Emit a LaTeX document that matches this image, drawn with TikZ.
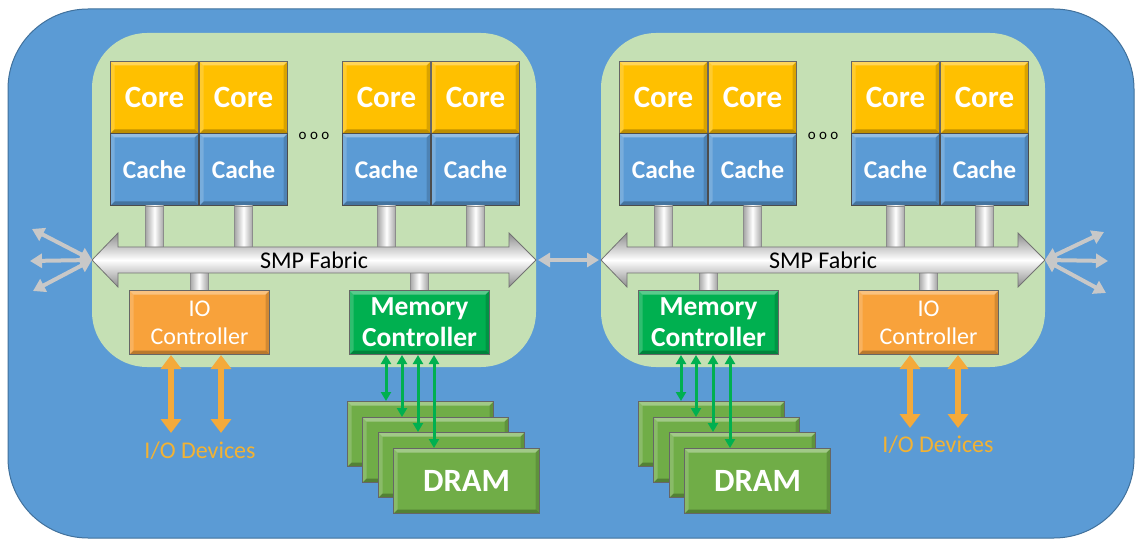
\documentclass[tikz,border=0pt]{standalone}
\usepackage{fontspec}
\setmainfont{Carlito}
\usetikzlibrary{arrows.meta,calc}
\definecolor{outerblue}{HTML}{5B9BD5}
\definecolor{outerline}{HTML}{41719C}
\definecolor{panelgreen}{HTML}{C5E0B4}
\definecolor{coregold}{HTML}{FFC000}
\definecolor{cacheblue}{HTML}{5B9BD5}
\definecolor{ioorange}{HTML}{F8A23B}
\definecolor{ioarrowc}{HTML}{F4AA3A}
\definecolor{memgreen}{HTML}{00B050}
\definecolor{dramgreen}{HTML}{70AD47}
\definecolor{arrowgray}{HTML}{C8C8C8}
\definecolor{iotext}{HTML}{F2B234}
\tikzset{
  bevel/.style={path picture={
    \fill[white,opacity=.35] (path picture bounding box.north west) -- (path picture bounding box.north east) -- ([shift={(-4pt,-4pt)}]path picture bounding box.north east) -- ([shift={(4pt,-4pt)}]path picture bounding box.north west) -- cycle;
    \fill[white,opacity=.18] (path picture bounding box.north west) -- ([shift={(4pt,-4pt)}]path picture bounding box.north west) -- ([shift={(4pt,4pt)}]path picture bounding box.south west) -- (path picture bounding box.south west) -- cycle;
    \fill[black,opacity=.25] (path picture bounding box.south west) -- (path picture bounding box.south east) -- ([shift={(-4pt,4pt)}]path picture bounding box.south east) -- ([shift={(4pt,4pt)}]path picture bounding box.south west) -- cycle;
    \fill[black,opacity=.15] (path picture bounding box.north east) -- ([shift={(-4pt,-4pt)}]path picture bounding box.north east) -- ([shift={(-4pt,4pt)}]path picture bounding box.south east) -- (path picture bounding box.south east) -- cycle;
  }},
  bbox/.style={bevel, draw=black!60, line width=1pt, anchor=north west, inner sep=0pt, text=white},
  corebox/.style={bbox, fill=coregold, minimum width=88pt, minimum height=72pt, font=\fontsize{31}{32}\selectfont\bfseries},
  cachebox/.style={bbox, fill=cacheblue, draw=black!70, minimum width=88pt, minimum height=72pt, font=\fontsize{25.5}{26}\selectfont\bfseries},
  iobox/.style={bbox, fill=ioorange, minimum width=140pt, minimum height=64pt, align=center, font=\fontsize{24}{28}\selectfont},
  membox/.style={bbox, fill=memgreen, minimum width=140pt, minimum height=64pt, align=center, font=\fontsize{27.5}{31}\selectfont\bfseries},
  drambox/.style={bbox, fill=dramgreen, minimum width=146pt, minimum height=65pt, font=\fontsize{32.5}{33}\selectfont\bfseries},
  cyl/.style={left color=black!35, right color=black!35, middle color=white, draw=black!45, line width=0.6pt},
  fabric/.style={top color=black!45, bottom color=black!45, middle color=white, draw=black!55, line width=0.8pt},
  fabtext/.style={font=\fontsize{24}{25}\selectfont, text=black},
  grayarrow/.style={draw=arrowgray, line width=4pt, {Triangle[length=12pt,width=14pt]}-{Triangle[length=12pt,width=14pt]}},
  ioarrow/.style={draw=ioarrowc, line width=6.5pt, {Triangle[length=14pt,width=20pt]}-{Triangle[length=14pt,width=20pt]}},
  memarrow/.style={draw=memgreen, line width=3pt, {Triangle[length=9pt,width=10pt]}-{Triangle[length=9pt,width=10pt]}},
  devtext/.style={text=iotext, font=\fontsize{24}{25}\selectfont},
}
\begin{document}
\begin{tikzpicture}[x=1pt,y=-1pt]
\useasboundingbox (0,0) rectangle (1141,548);
\fill[white] (0,0) rectangle (1141,548);
\draw[fill=outerblue, draw=outerline, line width=1pt, rounded corners=80pt] (8,9) rectangle (1134,538);

\foreach \p/\dx in {L/0,R/509} {
\begin{scope}[xshift=\dx]
  \fill[panelgreen, rounded corners=55pt] (92,33) rectangle (536,367);
  \node[corebox] (\p-co1) at (110,61) {Core};
  \node[corebox] (\p-co2) at (199,61) {Core};
  \node[corebox] (\p-co3) at (342,61) {Core};
  \node[corebox] (\p-co4) at (431,61) {Core};
  \node[cachebox] (\p-ca1) at (110,133) {Cache};
  \node[cachebox] (\p-ca2) at (199,133) {Cache};
  \node[cachebox] (\p-ca3) at (342,133) {Cache};
  \node[cachebox] (\p-ca4) at (431,133) {Cache};
  \node[font=\fontsize{15}{16}\selectfont, text=black] (\p-dots) at (314,136) {o o o};
  \foreach \i in {1,...,4} {
    \shade[cyl] ($(\p-ca\i.south)+(-9,0)$) rectangle ($(\p-ca\i.south)+(9,44)$);
  }
  \coordinate (\p-fl) at (92,260);
  \coordinate (\p-fr) at (536,260);
  \shade[cyl] (190,271) rectangle (208,292);
  \shade[cyl] (410,271) rectangle (428,292);
  \shade[fabric] (\p-fl) -- (118,233) -- (118,247) -- (509,247) -- (509,233) -- (\p-fr) -- (509,287) -- (509,273) -- (118,273) -- (118,287) -- cycle;
  \node[fabtext] (\p-smp) at (314,260) {SMP Fabric};
\end{scope}
}

% left chip controllers
\node[iobox] (L-io) at (129,290) {IO\\Controller};
\node[membox] (L-mc) at (349,290) {Memory\\Controller};
% right chip controllers
\node[membox] (R-mc) at (638,290) {Memory\\Controller};
\node[iobox] (R-io) at (858,290) {IO\\Controller};

% DRAM stacks
\node[drambox] (L-d1) at (347,401) {};
\node[drambox] (L-d2) at (362,417) {};
\node[drambox] (L-d3) at (378,432) {};
\node[drambox] (L-d4) at (393,448) {DRAM};
\node[drambox] (R-d1) at (638,401) {};
\node[drambox] (R-d2) at (653,417) {};
\node[drambox] (R-d3) at (669,432) {};
\node[drambox] (R-d4) at (684,448) {DRAM};

% memory arrows
\draw[memarrow] (L-mc.south -| 386,0) -- (L-d1.north -| 386,0);
\draw[memarrow] (L-mc.south -| 402,0) -- (L-d2.north -| 402,0);
\draw[memarrow] (L-mc.south -| 418,0) -- (L-d3.north -| 418,0);
\draw[memarrow] (L-mc.south -| 434,0) -- (L-d4.north -| 434,0);
\draw[memarrow] (R-mc.south -| 681,0) -- (R-d1.north -| 681,0);
\draw[memarrow] (R-mc.south -| 696,0) -- (R-d2.north -| 696,0);
\draw[memarrow] (R-mc.south -| 713,0) -- (R-d3.north -| 713,0);
\draw[memarrow] (R-mc.south -| 730,0) -- (R-d4.north -| 730,0);

% IO arrows and devices
\coordinate (L-iod1) at (171,433);
\coordinate (L-iod2) at (221,433);
\coordinate (R-iod1) at (910,428);
\coordinate (R-iod2) at (958,428);
\draw[ioarrow] (L-io.south -| L-iod1) -- (L-iod1);
\draw[ioarrow] (L-io.south -| L-iod2) -- (L-iod2);
\draw[ioarrow] (R-io.south -| R-iod1) -- (R-iod1);
\draw[ioarrow] (R-io.south -| R-iod2) -- (R-iod2);
\node[devtext] (L-dev) at (200,451) {I/O Devices};
\node[devtext] (R-dev) at (938,445) {I/O Devices};

% gray external arrows
\coordinate (L-g1) at (32,229);
\coordinate (L-g2) at (30,261);
\coordinate (L-g3) at (33,291);
\coordinate (R-g1) at (1104,232);
\coordinate (R-g2) at (1108,261);
\coordinate (R-g3) at (1106,293);
\foreach \i in {1,2,3} {
  \draw[grayarrow] (L-fl) -- (L-g\i);
  \draw[grayarrow] (R-fr) -- (R-g\i);
}
\draw[grayarrow, shorten <=2pt, shorten >=2pt] (L-fr) -- (R-fl);
\end{tikzpicture}
\end{document}
